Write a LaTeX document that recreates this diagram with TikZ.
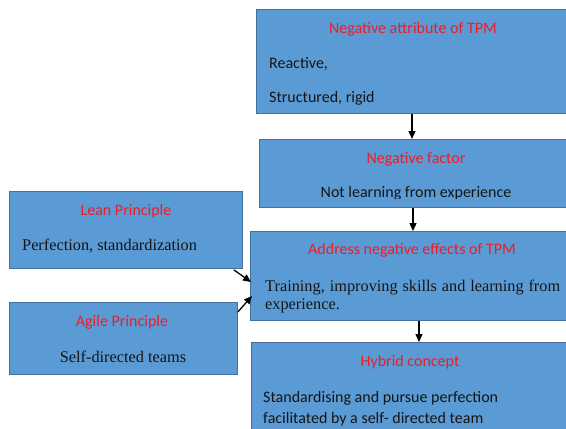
\documentclass[tikz,border=0pt]{standalone}
\usepackage{fontspec}
\setmainfont{Liberation Serif}
\newfontfamily\calfont{Carlito}
\usetikzlibrary{arrows.meta}
\definecolor{boxfill}{HTML}{5B9BD5}
\definecolor{boxline}{HTML}{41719C}
\definecolor{titlered}{HTML}{EE1C25}
\definecolor{bodyink}{HTML}{151515}
\tikzset{
  box/.style={draw=boxline, fill=boxfill, line width=0.8pt, rectangle, anchor=north west, inner sep=0pt},
  ttl/.style={font=\calfont\fontsize{16}{19}\selectfont, text=titlered, anchor=base, inner sep=0pt},
  sanstxt/.style={font=\calfont\fontsize{16}{19}\selectfont, text=bodyink, inner sep=0pt},
  seriftxt/.style={font=\fontsize{16.3}{19}\selectfont, text=bodyink, inner sep=0pt},
  conn/.style={line width=1.3pt, draw=black, -{Triangle[length=8pt,width=7pt]}}
}
\begin{document}
\begin{tikzpicture}[x=1pt,y=1pt]
\useasboundingbox (0,0) rectangle (566,-429);
\clip (0,0) rectangle (566,-429);
% boxes
\node[box, minimum width=324pt, minimum height=104pt] (b1) at (256,-9) {};
\node[box, minimum width=321pt, minimum height=68pt] (b2) at (259,-139) {};
\node[box, minimum width=330pt, minimum height=89pt] (b3) at (250,-231) {};
\node[box, minimum width=329pt, minimum height=100pt] (b4) at (251,-342) {};
\node[box, minimum width=233pt, minimum height=77pt] (lean) at (9,-191) {};
\node[box, minimum width=228pt, minimum height=72pt] (agile) at (9,-302) {};
% texts box 1
\node[ttl] (t1) at (413,-33) {Negative attribute of TPM};
\node[sanstxt, anchor=base west] (t1a) at (269,-68) {Reactive,};
\node[sanstxt, anchor=base west] (t1b) at (269,-102) {Structured, rigid};
% box 2
\node[ttl] (t2) at (416,-163) {Negative factor};
\begin{scope}
\clip (259,-140) rectangle (566,-198);
\node[sanstxt, anchor=base] (t2a) at (416,-197) {Not learning from experience};
\end{scope}
% box 3
\node[ttl] (t3) at (412,-254) {Address negative effects of TPM};
\node[seriftxt, anchor=base west] (t3a) at (265,-291) {\makebox[295pt][s]{Training, improving skills and learning from}};
\node[seriftxt, anchor=base west] (t3b) at (265,-309) {experience.};
% box 4
\node[ttl] (t4) at (410,-366) {Hybrid concept};
\node[sanstxt, anchor=base west] (t4a) at (263,-402) {Standardising and pursue perfection};
\node[sanstxt, anchor=base west] (t4b) at (263,-423) {facilitated by a self- directed team};
% lean
\node[ttl] (tl) at (126,-215) {Lean Principle};
\node[seriftxt, anchor=base west] (tla) at (22,-250) {Perfection, standardization};
% agile
\node[ttl] (tg) at (122,-326) {Agile Principle};
\node[seriftxt, anchor=base] (tga) at (123,-362) {Self-directed teams};
% connectors
\draw[conn] ([xshift=156pt]b1.south west) -- ([xshift=153pt]b2.north west);
\draw[conn] ([xshift=154pt]b2.south west) -- ([xshift=163pt]b3.north west);
\draw[conn] ([xshift=169pt]b3.south west) -- ([xshift=168pt]b4.north west);
\draw[conn] ([xshift=-9pt,yshift=-1pt]lean.south east) -- ([xshift=1pt,yshift=-51pt]b3.north west);
\draw[conn] ([yshift=-10pt]agile.north east) -- ([xshift=2pt,yshift=-65pt]b3.north west);
\end{tikzpicture}
\end{document}
